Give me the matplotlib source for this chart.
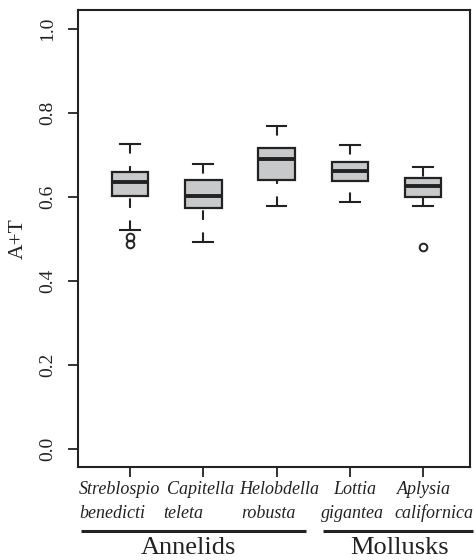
import matplotlib
matplotlib.use("Agg")
import matplotlib.pyplot as plt
import matplotlib.transforms as mtransforms

# ---- data ----
species = ["Streblospio\nbenedicti", "Capitella\nteleta", "Helobdella\nrobusta",
           "Lottia\ngigantea", "Aplysia\ncalifornica"]
whislo = [0.521, 0.493, 0.579, 0.588, 0.579]
q1     = [0.602, 0.574, 0.640, 0.638, 0.600]
med    = [0.636, 0.602, 0.690, 0.662, 0.626]
q3     = [0.660, 0.640, 0.717, 0.683, 0.645]
whishi = [0.726, 0.679, 0.769, 0.724, 0.671]
fliers = [[0.505, 0.488], [], [], [], [0.481]]
yticks = [0.0, 0.2, 0.4, 0.6, 0.8, 1.0]
ytick_labels = ["0.0", "0.2", "0.4", "0.6", "0.8", "1.0"]
groups = ["Annelids", "Mollusks"]
group_span = [(0.33, 3.40), (3.63, 5.68)]
group_label_x = [1.80, 4.68]
# horizontal nudges (pixels) of each label line, as laid out in the reference
line1_dx = [-10.5, -3, 2.5, 4.5, 1]
line2_dx = [-18, -20.5, -8, 2.5, 11]

INK = "#222222"
FILL = "#c8c9cb"
plt.rcParams["font.family"] = ["Liberation Serif", "DejaVu Serif"]

fig = plt.figure(figsize=(4.76, 5.6), dpi=100)
ax = fig.add_axes([78/476, 1-467/560, 392/476, 457/560])

stats = []
for i in range(len(species)):
    stats.append(dict(whislo=whislo[i], q1=q1[i], med=med[i], q3=q3[i],
                      whishi=whishi[i], fliers=fliers[i]))
pos = list(range(1, len(species)+1))
res = ax.bxp(stats, positions=pos, widths=0.5, patch_artist=True,
             showfliers=True,
             boxprops=dict(facecolor=FILL, edgecolor=INK, linewidth=1.6),
             medianprops=dict(color=INK, linewidth=2.8, solid_capstyle="butt"),
             whiskerprops=dict(color=INK, linewidth=1.5, linestyle=(0, (4.6, 6))),
             capprops=dict(color=INK, linewidth=1.5),
             flierprops=dict(marker="o", markerfacecolor="none",
                             markeredgecolor=INK, markersize=5.5,
                             markeredgewidth=1.4))
# dash pattern starts from the whisker end (as in R)
for ln in res["whiskers"]:
    x, y = ln.get_data()
    ln.set_data(x[::-1], y[::-1])
for c in res["caps"]:
    x, y = c.get_data()
    xm = sum(x)/2
    c.set_data([xm-0.135, xm+0.135], y)

ax.set_xlim(0.29, 5.64)
ax.set_ylim(-0.043, 1.045)
ax.set_yticks(yticks)
ax.set_yticklabels(ytick_labels, rotation=90, va="center", fontsize=14)
ax.set_xticks(pos)
ax.set_xticklabels([""] * len(pos))
ax.tick_params(axis="both", direction="out", length=7, width=1.3, color=INK,
               labelcolor=INK)
ax.tick_params(axis="y", pad=9)
for s in ax.spines.values():
    s.set_linewidth(1.5)
    s.set_color(INK)
ax.set_ylabel("A+T", fontsize=15.5, color=INK)
ax.yaxis.set_label_coords(-0.128, 0.5)

trans = mtransforms.blended_transform_factory(ax.transData, ax.transAxes)
row1_y = (467-494)/457
row2_y = (467-518)/457
for p, name, d1, d2 in zip(pos, species, line1_dx, line2_dx):
    l1, l2 = name.split("\n")
    for txt, dx, yy in ((l1, d1, row1_y), (l2, d2, row2_y)):
        t = trans + mtransforms.ScaledTranslation(dx/100, 0, fig.dpi_scale_trans)
        ax.text(p, yy, txt, transform=t, ha="center", va="baseline",
                fontsize=13, fontstyle="italic", color=INK)

line_y = (467-531)/457
text_y = (467-548)/457
for g, (a, b), lx in zip(groups, group_span, group_label_x):
    ax.plot([a, b], [line_y, line_y], transform=trans, color=INK,
            linewidth=2.2, clip_on=False, solid_capstyle="butt")
    ax.text(lx, text_y, g, transform=trans, ha="center", va="center",
            fontsize=19, color=INK)

fig.savefig("out.png", dpi=100)
